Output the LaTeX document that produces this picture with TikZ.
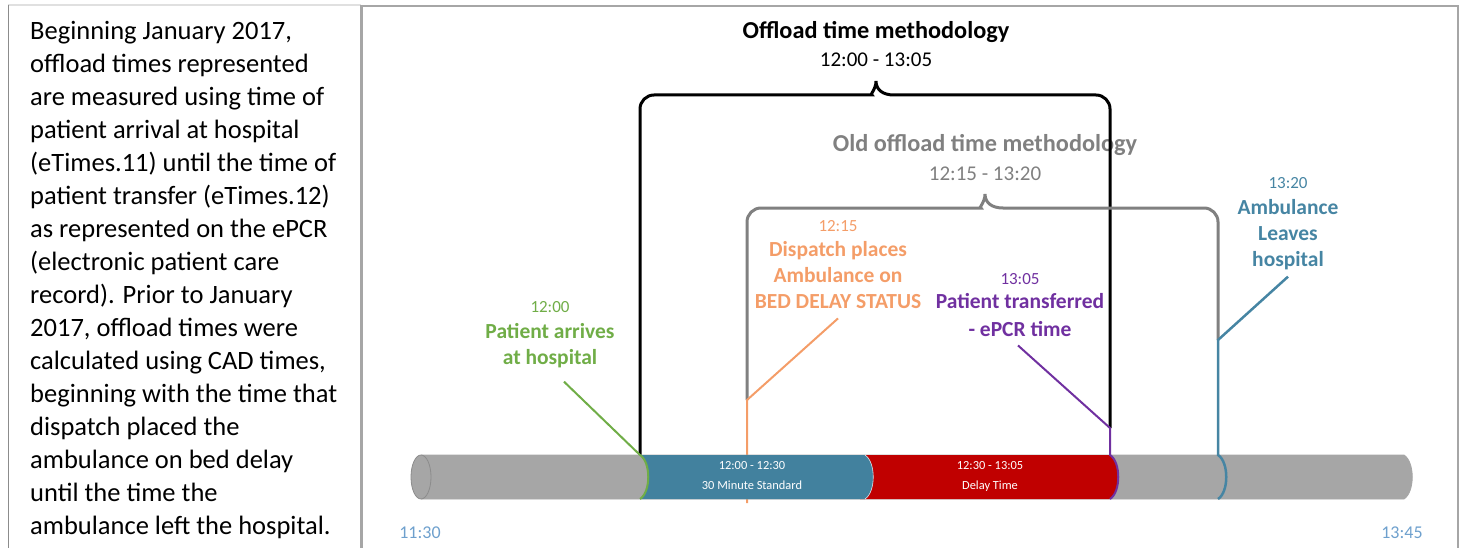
\documentclass[tikz,border=0pt]{standalone}
\usepackage{fontspec}
\setmainfont{Carlito}
\usetikzlibrary{positioning,calc}
\definecolor{barblue}{RGB}{66,129,158}
\definecolor{delayred}{RGB}{192,0,0}
\definecolor{tubegray}{RGB}{166,166,166}
\definecolor{framegray}{RGB}{166,166,166}
\definecolor{arrivegreen}{RGB}{112,173,71}
\definecolor{dispatchorange}{RGB}{244,157,104}
\definecolor{xferpurple}{RGB}{112,48,160}
\definecolor{leaveblue}{RGB}{70,133,163}
\definecolor{oldgray}{RGB}{128,128,128}
\definecolor{axisblue}{RGB}{110,160,205}

\begin{document}
\begin{tikzpicture}[x=1pt,y=-1pt,
    timelbl/.style={font=\fontsize{17}{19}\selectfont, inner sep=0pt},
    eventlbl/.style={font=\fontsize{21.5}{26}\selectfont\bfseries, align=center, inner sep=0pt},
    titlelbl/.style={font=\fontsize{24.3}{28}\selectfont\bfseries, inner sep=0pt},
    rangelbl/.style={font=\fontsize{21}{24}\selectfont, inner sep=0pt},
    bartxt/.style={font=\fontsize{12.4}{20}\selectfont, text=white, align=center, inner sep=0pt},
    bracket/.style={line width=3pt},
    leader/.style={line width=2pt}]
    \useasboundingbox (0,0) rectangle (1463,548);

    % frames
    \draw[black!12, line width=1.5pt] (8,5) -- (361,5);
    \draw[black!45, line width=1pt] (8,5) -- (8,548);
    \draw[framegray, line width=3pt] (361,5) -- (361,548);
    \draw[framegray, line width=2pt] (361,6.5) -- (1458,6.5) -- (1458,548);

    % note on the left
    \node[anchor=north west, align=left, inner sep=0pt, font=\fontsize{26.5}{33}\selectfont] (note) at (30,21)
        {Beginning January 2017,\\offload times represented\\are measured using time of\\patient arrival at hospital\\(eTimes.11) until the time of\\patient transfer (eTimes.12)\\as represented on the ePCR\\(electronic patient care\\record). Prior to January\\2017, offload times were\\calculated using CAD times,\\beginning with the time that\\dispatch placed the\\ambulance on bed delay\\until the time the\\ambulance left the hospital.};

    % points on the tube
    \coordinate (arrival) at (640,455);
    \coordinate (arrivalbot) at (640,499);
    \coordinate (dispknee) at (747,400);
    \coordinate (dispbot) at (747,503);
    \coordinate (xferknee) at (1110,428);
    \coordinate (xfer) at (1110,455);
    \coordinate (xferbot) at (1110,499);
    \coordinate (leaveknee) at (1218,340);
    \coordinate (leave) at (1218,455);
    \coordinate (leavebot) at (1218,499);

    % titles
    \node[titlelbl] (newtitle) at (876,32) {Offload time methodology};
    \node[rangelbl, below=10pt of newtitle] (newrange) {12:00 - 13:05};
    \node[titlelbl, text=oldgray] (oldtitle) at (985,145) {Old offload time methodology};
    \node[rangelbl, text=oldgray, below=11pt of oldtitle] (oldrange) {12:15 - 13:20};

    % event labels
    \node[timelbl, text=arrivegreen] (arrivetime) at (550,307) {12:00};
    \node[eventlbl, text=arrivegreen, below=10pt of arrivetime] (arrive) {Patient arrives\\at hospital};
    \node[timelbl, text=dispatchorange] (disptime) at (838,226) {12:15};
    \node[eventlbl, text=dispatchorange, below=9pt of disptime] (disp) {Dispatch places\\Ambulance on\\BED DELAY STATUS};
    \node[timelbl, text=xferpurple] (xfertime) at (1020,279) {13:05};
    \node[eventlbl, text=xferpurple, below=8pt of xfertime, font=\fontsize{21.5}{28}\selectfont\bfseries] (xferlbl) {Patient transferred\\- ePCR time};
    \node[timelbl, text=leaveblue] (leavetime) at (1288,183) {13:20};
    \node[eventlbl, text=leaveblue, below=10pt of leavetime] (leavelbl) {Ambulance\\Leaves\\hospital};

    % brackets
    \draw[bracket, black] (arrival) [rounded corners=14pt] -- (640,95) -- (858,95) [sharp corners]
        .. controls (869,95) and (876,90) .. (876,81) .. controls (876,90) and (883,95) .. (894,95)
        [rounded corners=14pt] -- (1110,95) -- (xferknee);
    \draw[bracket, oldgray] (dispknee) [rounded corners=14pt] -- (747,208) -- (967,208) [sharp corners]
        .. controls (978,208) and (985,203) .. (985,194) .. controls (985,203) and (992,208) .. (1003,208)
        [rounded corners=14pt] -- (1218,208) -- (leaveknee);

    % orange mark runs behind the bar
    \draw[leader, dispatchorange] ([shift={(0,10)}]disp.south) -- (dispknee) -- (dispbot);

    % tube
    \fill[tubegray] (421,455) -- (1404,455) .. controls (1415,462) and (1415,492) .. (1404,499) -- (421,499) -- cycle;
    \draw[black!35, line width=0.8pt] (421,455) -- (1404,455) .. controls (1415,462) and (1415,492) .. (1404,499) -- (421,499);
    \draw[fill=tubegray, draw=black!45, line width=0.8pt] (421,477) ellipse [x radius=10, y radius=22];

    % segments
    \fill[delayred] (860,455) -- (860,499) -- (xferbot) .. controls (1121,492) and (1121,462) .. (xfer) -- cycle;
    \fill[barblue] (arrival) .. controls (651,462) and (651,492) .. (arrivalbot) -- (865,499)
        .. controls (876,492) and (876,462) .. (865,455) -- cycle;
    \draw[white!80!barblue, line width=0.6pt] (865,499) .. controls (876,492) and (876,462) .. (865,455);
    \node[bartxt] (stdtxt) at (752,476) {12:00 - 12:30\\30 Minute Standard};
    \node[bartxt] (delaytxt) at (990,476) {12:30 - 13:05\\Delay Time};

    % leaders and rings
    \draw[leader, arrivegreen] ([shift={(14,14)}]arrive.south) -- (arrival)
        .. controls (651,462) and (651,492) .. (arrivalbot);
    \draw[leader, xferpurple] ([shift={(-2,9)}]xferlbl.south) -- (xferknee) -- (xfer)
        .. controls (1121,462) and (1121,492) .. (xferbot);
    \draw[leader, leaveblue, line width=2.5pt] ([shift={(0,7)}]leavelbl.south) -- (leaveknee) -- (leave)
        .. controls (1229,462) and (1229,492) .. (leavebot);

    % axis ends
    \node[font=\fontsize{18}{20}\selectfont, text=axisblue] (tstart) at (420,533) {11:30};
    \node[font=\fontsize{18}{20}\selectfont, text=axisblue] (tend) at (1402,533) {13:45};
\end{tikzpicture}
\end{document}
